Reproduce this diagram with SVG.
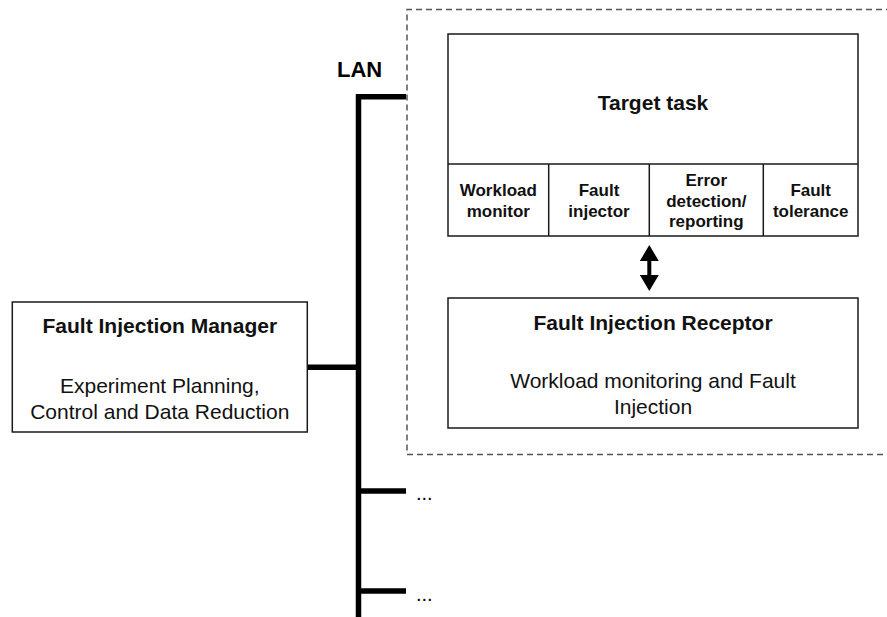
<svg xmlns="http://www.w3.org/2000/svg" width="887" height="617" viewBox="0 0 887 617">
<style>
.box{fill:#fff;stroke:#1a1a1a;stroke-width:1.5}
.div{stroke:#1a1a1a;stroke-width:1.5;fill:none}
.bus{stroke:#000;stroke-width:5.5;fill:none}
.dash{stroke:#555;stroke-width:1.5;fill:none;stroke-dasharray:6 4}
.t{font-family:"Liberation Sans",Arial,sans-serif;fill:#111;text-anchor:middle}
.b21{font-size:21px;font-weight:bold}
.r21{font-size:21px}
.b17{font-size:17px;font-weight:bold}
.lan{font-family:"Liberation Sans",Arial,sans-serif;font-size:22px;font-weight:bold;fill:#000}
.dots{font-family:"Liberation Sans",Arial,sans-serif;font-size:20px;fill:#000}
</style>
<defs>
<marker id="head" viewBox="0 0 16 19" refX="1" refY="9.5" markerWidth="16" markerHeight="19" markerUnits="userSpaceOnUse" orient="auto-start-reverse">
<path d="M0,0 L16,9.5 L0,19 z" fill="#000"/>
</marker>
</defs>

<g id="target-system">
<path class="dash" d="M892 9.5 H407 V454.5 H892"/>
</g>

<g id="connectors">
<path class="bus" d="M358.5 617 V96.7 H406"/>
<path class="bus" d="M307 367.3 H358.5"/>
<path class="bus" d="M358.5 491 H406"/>
<path class="bus" d="M358.5 591 H406"/>
<line x1="649.3" y1="260" x2="649.3" y2="276" stroke="#000" stroke-width="4" marker-start="url(#head)" marker-end="url(#head)"/>
</g>

<g id="lan-label">
<text class="lan" x="337" y="77">LAN</text>
</g>

<g id="target-task">
<rect class="box" x="448" y="34" width="410" height="202"/>
<path class="div" d="M448 164 H858 M548.7 164 V236 M649.3 164 V236 M763.3 164 V236"/>
<text class="t b21" x="653" y="109.5">Target task</text>
</g>

<g id="workload-monitor">
<text class="t b17" x="498.3" y="196">Workload</text>
<text class="t b17" x="498.3" y="216.7">monitor</text>
</g>
<g id="fault-injector">
<text class="t b17" x="599" y="196">Fault</text>
<text class="t b17" x="599" y="216.7">injector</text>
</g>
<g id="error-detection">
<text class="t b17" x="706.3" y="186">Error</text>
<text class="t b17" x="706.3" y="206.7">detection/</text>
<text class="t b17" x="706.3" y="227.3">reporting</text>
</g>
<g id="fault-tolerance">
<text class="t b17" x="810.7" y="196">Fault</text>
<text class="t b17" x="810.7" y="216.7">tolerance</text>
</g>

<g id="fault-injection-receptor">
<rect class="box" x="448" y="298" width="410" height="130"/>
<text class="t b21" x="653" y="330">Fault Injection Receptor</text>
<text class="t r21" x="653" y="388">Workload monitoring and Fault</text>
<text class="t r21" x="653" y="414">Injection</text>
</g>

<g id="fault-injection-manager">
<rect class="box" x="12.3" y="302" width="295" height="130"/>
<text class="t b21" x="159.8" y="333">Fault Injection Manager</text>
<text class="t r21" x="159.8" y="393">Experiment Planning,</text>
<text class="t r21" x="159.8" y="419">Control and Data Reduction</text>
</g>

<g id="more-nodes">
<text class="dots" x="416" y="500">...</text>
<text class="dots" x="416" y="601">...</text>
</g>
</svg>
